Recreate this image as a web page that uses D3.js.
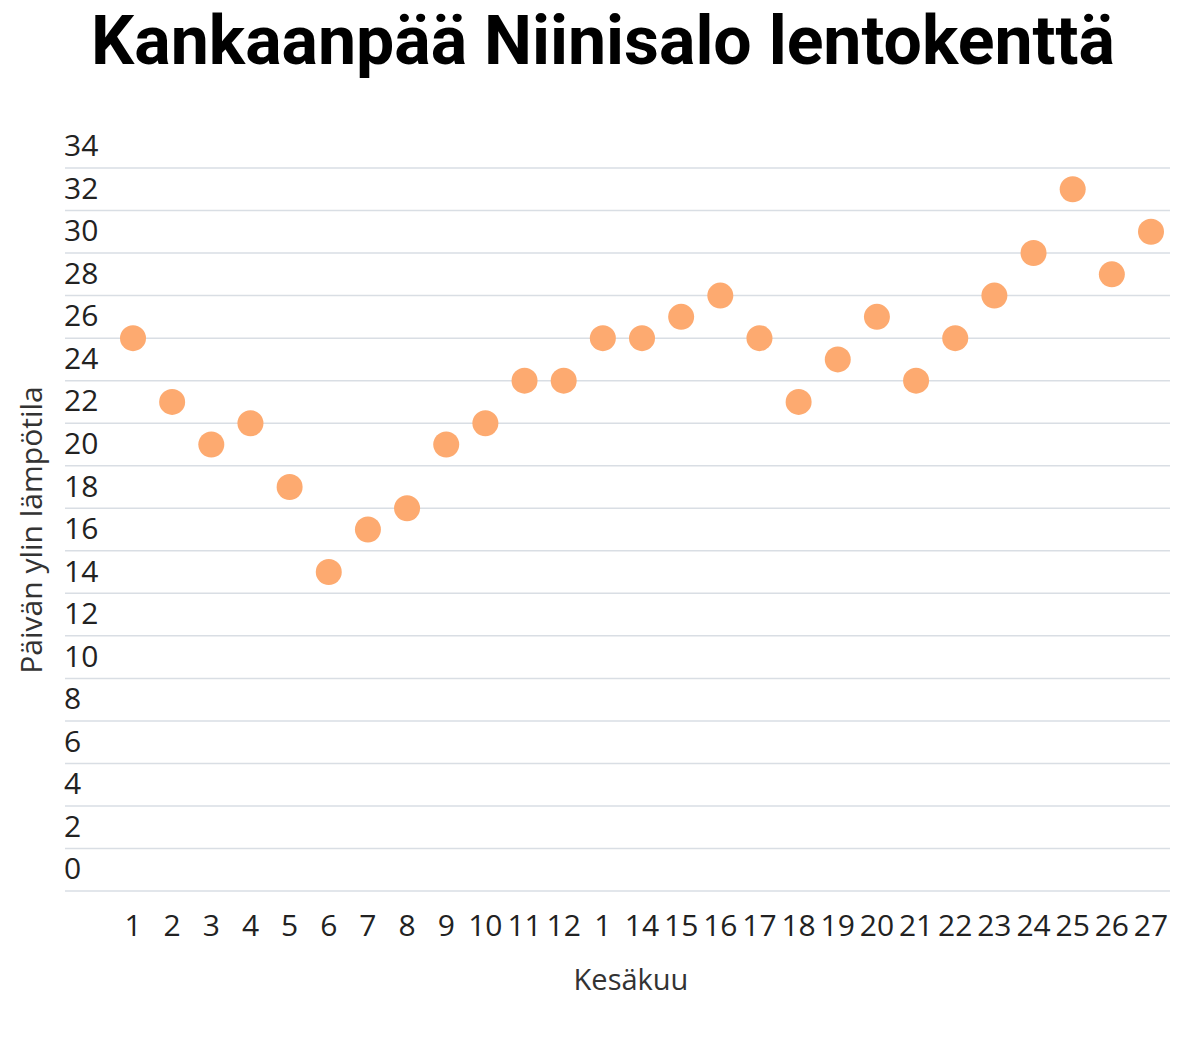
<!DOCTYPE html>
<html>
<head>
<meta charset="utf-8">
<script src="https://cdn.jsdelivr.net/npm/d3@7"></script>
<style>
  body { margin: 0; background: #fff; }
  text { font-family: "Open Sans", sans-serif; }
</style>
</head>
<body>
<div id="chart"></div>
<script>
const days = ['1','2','3','4','5','6','7','8','9','10','11','12','1','14','15','16','17','18','19','20','21','22','23','24','25','26','27'];
const temps = [24, 21, 19, 20, 17, 13, 15, 16, 19, 20, 22, 22, 24, 24, 25, 26, 24, 21, 23, 25, 22, 24, 26, 28, 31, 27, 29];
const yTicks = [0, 2, 4, 6, 8, 10, 12, 14, 16, 18, 20, 22, 24, 26, 28, 30, 32, 34];
const gridValues = [-2, 0, 2, 4, 6, 8, 10, 12, 14, 16, 18, 20, 22, 24, 26, 28, 30, 32];

const width = 1198;
const height = 1052;

const svg = d3.select('#chart')
  .append('svg')
  .attr('width', width)
  .attr('height', height);

const xScale = d3.scalePoint()
  .domain(d3.range(days.length))
  .range([133, 1151]);

const yScale = d3.scaleLinear()
  .domain([0, 32])
  .range([848.5, 168]);

// title
svg.append('text')
  .attr('x', 603)
  .attr('y', 64)
  .attr('text-anchor', 'middle')
  .style('font-family', 'Roboto, sans-serif')
  .style('font-weight', 700)
  .style('font-size', '68px')
  .style('fill', '#000')
  .text('Kankaanpää Niinisalo lentokenttä');

// grid
svg.append('g')
  .selectAll('line')
  .data(gridValues)
  .enter()
  .append('line')
  .attr('x1', 65)
  .attr('x2', 1170)
  .attr('y1', d => yScale(d))
  .attr('y2', d => yScale(d))
  .style('stroke', '#d9dee4')
  .style('stroke-width', 1.5);

// y labels sit below their line
svg.append('g')
  .selectAll('text')
  .data(yTicks)
  .enter()
  .append('text')
  .attr('x', 64)
  .attr('y', d => yScale(d) + 20)
  .attr('dy', '0.36em')
  .style('font-size', '30px')
  .style('fill', '#222')
  .text(d => d);

// x labels
svg.append('g')
  .selectAll('text')
  .data(days)
  .enter()
  .append('text')
  .attr('x', (d, i) => xScale(i))
  .attr('y', 925)
  .attr('dy', '0.36em')
  .attr('text-anchor', 'middle')
  .style('font-size', '30px')
  .style('fill', '#222')
  .text(d => d);

svg.append('text')
  .attr('x', 631)
  .attr('y', 980)
  .attr('dy', '0.36em')
  .attr('text-anchor', 'middle')
  .style('font-size', '29px')
  .style('fill', '#333')
  .text('Kesäkuu');

svg.append('text')
  .attr('transform', 'translate(31, 530) rotate(-90)')
  .attr('dy', '0.36em')
  .attr('text-anchor', 'middle')
  .style('font-size', '30px')
  .style('fill', '#333')
  .text('Päivän ylin lämpötila');

// dots
svg.append('g')
  .selectAll('circle')
  .data(temps)
  .enter()
  .append('circle')
  .attr('cx', (d, i) => xScale(i))
  .attr('cy', d => yScale(d))
  .attr('r', 13)
  .style('fill', '#fdaa70');
</script>
</body>
</html>
